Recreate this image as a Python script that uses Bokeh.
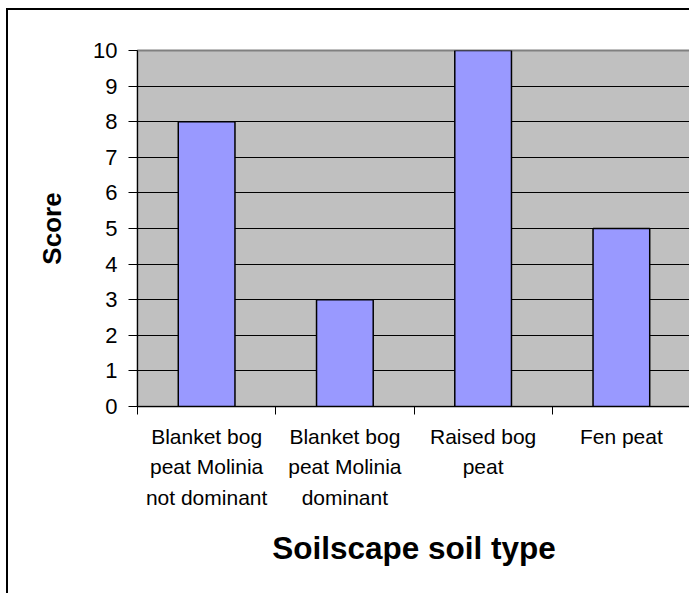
from bokeh.plotting import figure
from bokeh.models import FixedTicker, Range1d
from bokeh.embed import file_html
from bokeh.resources import INLINE

categories = ["Blanket bog\npeat Molinia\nnot dominant",
              "Blanket bog\npeat Molinia\ndominant",
              "Raised bog\npeat",
              "Fen peat"]
scores = [8, 3, 10, 5]
y_ticks = [0, 1, 2, 3, 4, 5, 6, 7, 8, 9, 10]

FONT = "Liberation Sans"
n = len(categories)
centers = [i + 0.5 for i in range(n)]
bounds = [i for i in range(n + 1)]

p = figure(width=683, height=585, output_backend="svg", toolbar_location=None,
           x_range=Range1d(0, n), y_range=Range1d(0, 10),
           min_border_left=129, min_border_right=1, min_border_top=40,
           min_border_bottom=189)
p.styles = {"border-left": "2px solid black", "border-top": "2px solid black",
            "margin-left": "6px", "margin-top": "8px"}

p.background_fill_color = "#C0C0C0"
p.border_fill_color = "white"
p.outline_line_color = "#808080"
p.outline_line_width = 2

p.vbar(x=centers, top=scores, width=0.41, bottom=0,
       fill_color="#9999FF", line_color="black", line_width=1.5)

# grid
p.xgrid.visible = False
p.ygrid.ticker = FixedTicker(ticks=y_ticks)
p.ygrid.grid_line_color = "black"
p.ygrid.grid_line_width = 1

# y axis
p.yaxis.ticker = FixedTicker(ticks=y_ticks)
p.yaxis.axis_line_color = "black"
p.yaxis.major_tick_out = 9
p.yaxis.major_tick_in = 0
p.yaxis.minor_tick_line_color = None
p.yaxis.major_label_standoff = 11
p.yaxis.major_label_text_font = FONT
p.yaxis.major_label_text_font_size = "22px"
p.yaxis.major_label_text_color = "black"
p.yaxis.axis_label = "Score"
p.yaxis.axis_label_text_font = FONT
p.yaxis.axis_label_text_font_style = "bold"
p.yaxis.axis_label_text_font_size = "26px"
p.yaxis.axis_label_text_color = "black"
p.yaxis.axis_label_standoff = 23

# x axis
p.xaxis.ticker = FixedTicker(ticks=centers, minor_ticks=bounds)
p.xaxis.major_label_overrides = {c: lab for c, lab in zip(centers, categories)}
p.xaxis.axis_line_color = "black"
p.xaxis.major_tick_out = 0
p.xaxis.major_tick_in = 0
p.xaxis.minor_tick_out = 8
p.xaxis.minor_tick_in = 0
p.xaxis.minor_tick_line_color = "black"
p.xaxis.major_label_standoff = 10
p.xaxis.major_label_text_font = FONT
p.xaxis.major_label_text_font_size = "21px"
p.xaxis.major_label_text_line_height = 1.34
p.xaxis.major_label_text_color = "black"
p.xaxis.axis_label = "Soilscape soil type"
p.xaxis.axis_label_text_font = FONT
p.xaxis.axis_label_text_font_style = "bold"
p.xaxis.axis_label_text_font_size = "31.5px"
p.xaxis.axis_label_text_color = "black"
p.xaxis.axis_label_standoff = 18

open("out.html", "w").write(file_html(p, INLINE))
